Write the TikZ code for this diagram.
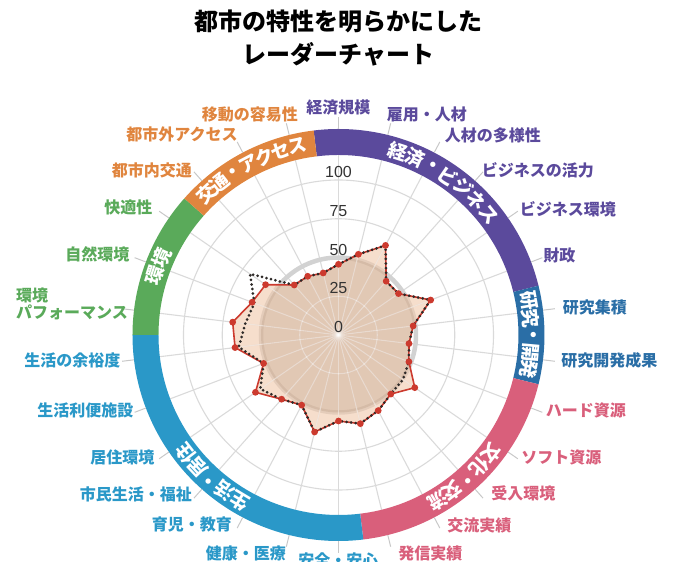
\documentclass[tikz,border=0pt]{standalone}
\usepackage{fontspec}
\setmainfont{Noto Sans CJK JP}
\newfontfamily\numfont{Liberation Sans}
\definecolor{cPur}{HTML}{5B4A9C}
\definecolor{cDb}{HTML}{2A6EA6}
\definecolor{cPk}{HTML}{D95F7B}
\definecolor{cLb}{HTML}{2A98C8}
\definecolor{cGr}{HTML}{5AAA5A}
\definecolor{cOr}{HTML}{E0853E}
\definecolor{gridc}{HTML}{DADADA}
\definecolor{ringc}{HTML}{D2D2D2}
\definecolor{fillc}{RGB}{240,200,170}
\definecolor{innerc}{RGB}{180,150,125}
\definecolor{redc}{HTML}{CC3A2E}
\definecolor{dotc}{HTML}{2E2A28}
\definecolor{numc}{HTML}{333333}
\definecolor{tickc}{HTML}{C8C8C8}
\newcommand{\bandsector}[3]{\fill[#1] (#2:206pt) arc[start angle=#2, end angle=#3, radius=206pt] -- (#3:180pt) arc[start angle=#3, end angle=#2, radius=180pt] -- cycle;}
% #1 name, #2 centre angle, #3 number of chars, #4 step, #5 chars
\newcommand{\bandtext}[5]{%
  \foreach \ch [count=\k from 0] in {#5} {%
    \pgfmathsetmacro\ang{#2+((#3-1)/2-\k)*#4}%
    \node[bandch, rotate=\ang-90] (#1-\k) at (\ang:193pt) {\ch};
  }}
\begin{document}
\begin{tikzpicture}[x=1pt,y=1pt,
  lbl/.style={font=\bfseries\fontsize{16}{19}\selectfont, inner sep=0pt},
  bandch/.style={font=\bfseries\fontsize{19}{19}\selectfont, text=white, inner sep=0pt},
  num/.style={font=\numfont\fontsize{16}{16}\selectfont, text=numc, inner sep=0pt},
  gridline/.style={draw=gridc, line width=1.1pt},
  lightline/.style={draw=white, draw opacity=0.45, line width=1.1pt},
  tickline/.style={draw=tickc, line width=1pt}]
\useasboundingbox (-338.5,-227) rectangle (334.5,335);

% grid
\foreach \rr in {38.75,77.5,116.25,155}
  \draw[gridline] (0,0) circle[radius=\rr pt];
\foreach \i in {0,...,25}
  \draw[gridline] (0,0) -- ({90-\i*360/26}:180pt);
\draw[ringc, line width=4.5pt] (0,0) circle[radius=77.5pt];

% data points
\foreach \r [count=\i from 0] in {70.7,83.1,101.2,71.9,72.9,98.6,75.2,71,75.3,92.7,78.9,85.4,91.3,86,99.9,79.2,85.8,100.9,80.1,104.2,106.6,92.4,88.6,66.8,66.3,63.9}
  \coordinate (r\i) at ({90-\i*360/26}:\r pt);
\foreach \r [count=\i from 0] in {70.7,83.1,101.2,71.9,72.9,98.6,75.2,71,75.3,78.4,78.9,85.4,91.3,86,99.9,79.2,85.8,95,80.1,100.5,93.9,90,107.5,66.8,66.3,63.9}
  \coordinate (k\i) at ({90-\i*360/26}:\r pt);

\fill[fillc, fill opacity=0.6] (r0) \foreach \i in {1,...,25}{ -- (r\i)} -- cycle;
\begin{scope}
  \clip (r0) \foreach \i in {1,...,25}{ -- (r\i)} -- cycle;
  \fill[innerc, fill opacity=0.3] (0,0) circle[radius=77.5pt];
  \foreach \rr in {38.75,116.25}
    \draw[lightline] (0,0) circle[radius=\rr pt];
  \foreach \i in {0,...,25}
    \draw[lightline] (0,0) -- ({90-\i*360/26}:180pt);
\end{scope}

\draw[redc, line width=1.6pt, line join=round] (r0) \foreach \i in {1,...,25}{ -- (r\i)} -- cycle;
\draw[dotc, line width=3pt, line cap=round, dash pattern=on 0pt off 4.6pt] (k0) \foreach \i in {1,...,25}{ -- (k\i)} -- cycle;
\foreach \i in {0,...,25}
  \fill[redc] (r\i) circle[radius=3.4pt];

% scale numbers
\node[num] (n0) at (0,8) {0};
\node[num] (n25) at (0,46.8) {25};
\node[num] (n50) at (0,85.5) {50};
\node[num] (n75) at (0,124.3) {75};
\node[num] (n100) at (0,163) {100};

% band
\bandsector{cPur}{96.923}{13.846}
\bandsector{cDb}{13.846}{-13.846}
\bandsector{cPk}{-13.846}{-83.077}
\bandsector{cLb}{-83.077}{-180}
\bandsector{cGr}{-180}{-221.538}
\bandsector{cOr}{-221.538}{-263.077}

\bandtext{bk}{55.385}{7}{5.55}{経,済,・,ビ,ジ,ネ,ス}
\bandtext{br}{0}{5}{5.1}{研,究,・,開,発}
\bandtext{bb}{-48.46}{5}{5.3}{文,化,・,交,流}
\bandtext{bs}{-131.54}{5}{5.3}{生,活,・,居,住}
\bandtext{be}{159.23}{2}{5.6}{環,境}
\bandtext{bt}{117.69}{7}{5.15}{交,通,・,ア,ク,セ,ス}

% leader ticks
\foreach \i in {0,...,25} {
  \coordinate (ta\i) at ({90-\i*360/26}:206pt);
  \coordinate (tb\i) at ({90-\i*360/26}:218pt);
  \draw[tickline] (ta\i) -- (tb\i);
}

% labels
\node[lbl, text=cPur] (l0) at (0,227) {経済規模};
\node[lbl, text=cPur] (l1) at (88.5,221) {雇用・人材};
\node[lbl, text=cPur] (l2) at (154.5,200) {人材の多様性};
\node[lbl, text=cPur] (l3) at (199.5,165) {ビジネスの活力};
\node[lbl, text=cPur] (l4) at (229.5,126) {ビジネス環境};
\node[lbl, text=cPur] (l5) at (221,80) {財政};
\node[lbl, text=cDb] (l6) at (256.5,28) {研究集積};
\node[lbl, text=cDb] (l7) at (271,-25) {研究開発成果};
\node[lbl, text=cPk] (l8) at (247.5,-75) {ハード資源};
\node[lbl, text=cPk] (l9) at (223,-122) {ソフト資源};
\node[lbl, text=cPk] (l10) at (185,-158) {受入環境};
\node[lbl, text=cPk] (l11) at (141,-190) {交流実績};
\node[lbl, text=cPk] (l12) at (92,-218) {発信実績};
\node[lbl, text=cLb] (l13) at (0,-225) {安全・安心};
\node[lbl, text=cLb] (l14) at (-92.5,-218) {健康・医療};
\node[lbl, text=cLb] (l15) at (-146.5,-189) {育児・教育};
\node[lbl, text=cLb] (l16) at (-202.5,-159) {市民生活・福祉};
\node[lbl, text=cLb] (l17) at (-216,-122) {居住環境};
\node[lbl, text=cLb] (l18) at (-253,-75) {生活利便施設};
\node[lbl, text=cLb] (l19) at (-266,-25) {生活の余裕度};
\node[lbl, text=cGr, align=left, anchor=west, font=\bfseries\fontsize{16}{17}\selectfont] (l20) at (-322.5,31.5) {環境\\パフォーマンス};
\node[lbl, text=cGr] (l21) at (-241,81) {自然環境};
\node[lbl, text=cGr] (l22) at (-210,128) {快適性};
\node[lbl, text=cOr] (l23) at (-186.5,165) {都市内交通};
\node[lbl, text=cOr] (l24) at (-156.5,201) {都市外アクセス};
\node[lbl, text=cOr] (l25) at (-88.5,221) {移動の容易性};

% title
\node[font=\bfseries\fontsize{24}{33}\selectfont, align=center, inner sep=0pt] (title) at (0,296.5) {都市の特性を明らかにした\\レーダーチャート};
\end{tikzpicture}
\end{document}
